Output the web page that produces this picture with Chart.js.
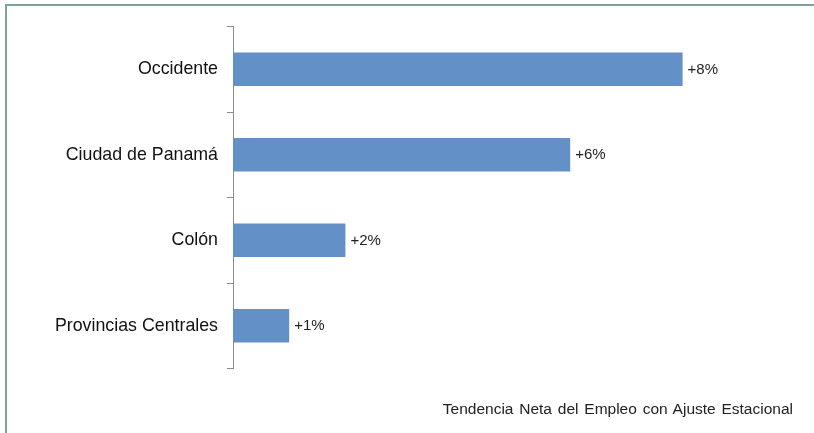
<!DOCTYPE html>
<html>
<head>
<meta charset="utf-8">
<script src="https://cdn.jsdelivr.net/npm/chart.js@4/dist/chart.umd.min.js"></script>
<style>
  html, body { margin: 0; padding: 0; width: 814px; height: 433px; overflow: hidden; background: #fff; }
  #frame { position: absolute; left: 5px; top: 4px; width: 1000px; height: 600px; border: 2px solid #7fa494; box-sizing: border-box; }
  #wrap { position: absolute; left: 0; top: 0; width: 814px; height: 433px; }
  #footer { position: absolute; right: 21px; top: 400px; font-family: "Liberation Sans", Arial, sans-serif; font-size: 15.5px; color: #222; word-spacing: 1.5px; white-space: nowrap; }
</style>
</head>
<body>
<div id="frame"></div>
<div id="wrap"><canvas id="c" width="814" height="433"></canvas></div>
<div id="footer">Tendencia Neta del Empleo con Ajuste Estacional</div>
<script>
const categories = ["Occidente", "Ciudad de Panamá", "Colón", "Provincias Centrales"];
const values = [8, 6, 2, 1];
const valueLabels = ["+8%", "+6%", "+2%", "+1%"];

const labelPlugin = {
  id: 'valueLabels',
  afterDatasetsDraw(chart) {
    const ctx = chart.ctx;
    const meta = chart.getDatasetMeta(0);
    ctx.save();
    ctx.font = '15px "Liberation Sans", Arial, sans-serif';
    ctx.fillStyle = '#222';
    ctx.textAlign = 'left';
    ctx.textBaseline = 'middle';
    meta.data.forEach((bar, i) => {
      ctx.fillText(valueLabels[i], bar.x + 5, bar.y + 0.5);
    });
    ctx.restore();
  }
};

new Chart(document.getElementById('c'), {
  type: 'bar',
  data: {
    labels: categories,
    datasets: [{
      data: values,
      backgroundColor: '#6490c8',
      borderWidth: 0,
      barPercentage: 0.39,
      categoryPercentage: 1.0
    }]
  },
  options: {
    indexAxis: 'y',
    responsive: false,
    animation: false,
    devicePixelRatio: 1,
    layout: { padding: { top: 26.5, right: 19, bottom: 64.5, left: 0 } },
    plugins: { legend: { display: false }, tooltip: { enabled: false } },
    scales: {
      x: { display: false, min: 0, max: 10 },
      y: {
        afterFit(s) { s.width = 233; },
        border: { display: true, color: '#8c8c8c', width: 1 },
        grid: { display: true, drawOnChartArea: false, drawTicks: true, tickLength: 6, color: '#8c8c8c', offset: true },
        ticks: { color: '#111', padding: 9, font: { family: '"Liberation Sans", Arial, sans-serif', size: 17.8 } }
      }
    }
  },
  plugins: [labelPlugin]
});
</script>
</body>
</html>
